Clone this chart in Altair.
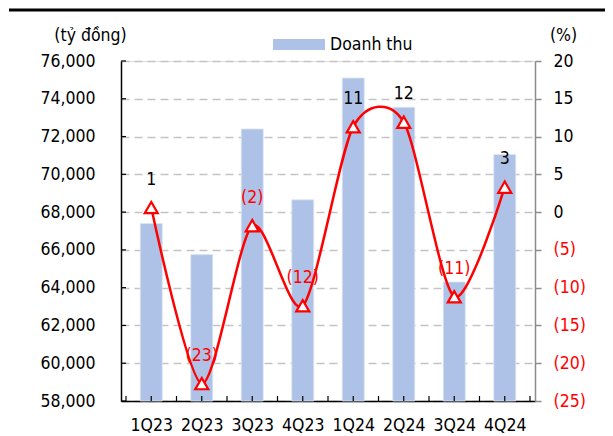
import altair as alt
import pandas as pd

quarters = ["1Q23", "2Q23", "3Q23", "4Q23", "1Q24", "2Q24", "3Q24", "4Q24"]
revenue = [67400, 65750, 72400, 68650, 75100, 73550, 64300, 71050]
growth = [0.6, -22.7, -1.8, -12.4, 11.3, 11.9, -11.2, 3.3]
left_ticks = [58000, 60000, 62000, 64000, 66000, 68000, 70000, 72000, 74000, 76000]
right_ticks = [-25, -20, -15, -10, -5, 0, 5, 10, 15, 20]
x_tick_pos = [0, 0.5, 1, 1.5, 2, 2.5, 3, 3.5, 4, 4.5, 5, 5.5, 6, 6.5, 7, 7.5, 8]
legend_label = ["Doanh thu"]

FONT = "DejaVu Sans Condensed, DejaVu Sans, Liberation Sans"
FS = 17.5
RED = "#FF0000"
BAR = "#ADC2E6"
W, H = 414, 340

df = pd.DataFrame({
    "pos": [i + 0.5 for i in range(len(quarters))],
    "quarter": quarters,
    "revenue": revenue,
    "growth": growth,
})
df["label"] = [str(round(g)) if g >= 0 else "(" + str(round(-g)) + ")" for g in growth]
df["neg"] = [g < 0 for g in growth]

xscale = alt.Scale(domain=[0, 8], nice=False, zero=False)
lscale = alt.Scale(domain=[58000, 76000], nice=False, zero=False)
rscale = alt.Scale(domain=[-25, 20], nice=False, zero=False)

label_expr = "[" + ",".join("'" + q + "'" for q in quarters) + "][floor(datum.value)]"

xaxis = alt.Axis(values=[i + 0.5 for i in range(len(quarters))], labelExpr=label_expr,
                 ticks=False, grid=False, domainColor="#000000", domainWidth=1.5,
                 labelFont=FONT, labelFontSize=FS, labelColor="#000000", labelPadding=15,
                 labelFlush=False, labelOverlap=False, title=None)

laxis = alt.Axis(values=left_ticks, labelExpr="format(datum.value, ',')",
                 grid=True, gridDash=[8, 5],
                 gridColor="#C4C4C4", gridWidth=1.5, ticks=False, labelPadding=26,
                 domainColor="#000000", domainWidth=1.5, labelOverlap=False,
                 labelFont=FONT, labelFontSize=FS, labelColor="#000000",
                 title="(tỷ đồng)", titleAngle=0, titleX=-31, titleY=-26,
                 titleAlign="center", titleBaseline="middle", titleFont=FONT,
                 titleFontSize=FS, titleFontWeight="normal", titleColor="#000000")

raxis = alt.Axis(orient="right", values=right_ticks,
                 labelExpr="datum.value < 0 ? '(' + abs(datum.value) + ')' : '' + datum.value",
                 labelColor={"condition": {"test": "datum.value < 0", "value": RED},
                             "value": "#000000"},
                 tickColor="#8C8C8C", tickSize=6, tickWidth=1.5, labelOverlap=False,
                 domainColor="#8C8C8C", domainWidth=1.5, labelPadding=12,
                 grid=False, labelFont=FONT, labelFontSize=FS,
                 title="(%)", titleAngle=0, titleX=28, titleY=-26,
                 titleAlign="center", titleBaseline="middle", titleFont=FONT,
                 titleFontSize=FS, titleFontWeight="normal", titleColor="#000000")

bars = alt.Chart(df).mark_bar(size=22, color=BAR, stroke="#DCE6F4", strokeWidth=0.8).encode(
    x=alt.X("pos:Q", scale=xscale, axis=xaxis),
    y=alt.Y("revenue:Q", scale=lscale, axis=laxis),
    y2=alt.datum(58000),
)

ltick_df = pd.DataFrame({"revenue": left_ticks})
lticks = alt.Chart(ltick_df).mark_rule(color="#000000", strokeWidth=1.2).encode(
    y=alt.Y("revenue:Q", scale=lscale, axis=laxis),
    x=alt.value(0), x2=alt.value(5),
)

xt_df = pd.DataFrame({"pos": x_tick_pos})
xticks = alt.Chart(xt_df).mark_rule(color="#000000", strokeWidth=1.2).encode(
    x=alt.X("pos:Q", scale=xscale, axis=xaxis),
    y=alt.value(H - 5), y2=alt.value(H),
)

leg_df = pd.DataFrame({"t": legend_label})
leg_rect = alt.Chart(leg_df).mark_rect(color=BAR).encode(
    x=alt.value(152), x2=alt.value(204), y=alt.value(-22), y2=alt.value(-11),
)
leg_text = alt.Chart(leg_df).mark_text(align="left", baseline="middle", font=FONT,
                                        fontSize=FS, color="#000000").encode(
    x=alt.value(209), y=alt.value(-16), text="t:N",
)
top_line = alt.Chart(leg_df).mark_rule(color="#000000", strokeWidth=3).encode(
    x=alt.value(-112), x2=alt.value(492), y=alt.value(-51),
)

left_layer = alt.layer(bars, lticks, xticks, leg_rect, leg_text, top_line)

line = alt.Chart(df).mark_line(color=RED, strokeWidth=2.5, interpolate="cardinal",
                               tension=0.2).encode(
    x=alt.X("pos:Q", scale=xscale, axis=xaxis),
    y=alt.Y("growth:Q", scale=rscale, axis=raxis),
)
pts = alt.Chart(df).mark_point(shape="triangle-up", filled=True, fill="#FFFFFF",
                               stroke=RED, strokeWidth=2.2, size=170, opacity=1).encode(
    x=alt.X("pos:Q", scale=xscale, axis=xaxis),
    y=alt.Y("growth:Q", scale=rscale, axis=raxis),
)
labels = alt.Chart(df).mark_text(dy=-28, font=FONT, fontSize=FS, baseline="middle").encode(
    x=alt.X("pos:Q", scale=xscale, axis=xaxis),
    y=alt.Y("growth:Q", scale=rscale, axis=raxis),
    text="label:N",
    color=alt.condition("datum.neg", alt.value(RED), alt.value("#000000")),
)

right_layer = alt.layer(line, pts, labels)

chart = alt.layer(left_layer, right_layer).resolve_scale(y="independent").properties(
    width=W, height=H,
    autosize=alt.AutoSizeParams(type="none"),
    padding={"left": 113, "top": 53, "right": 70, "bottom": 35},
).configure_view(stroke=None).configure(background="#FFFFFF")

chart.save("out.html", embed_options={"renderer": "svg", "actions": False})
